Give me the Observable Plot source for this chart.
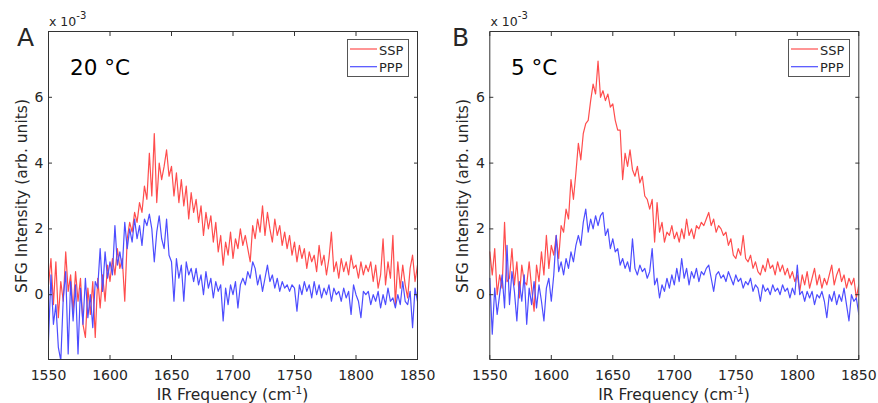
<!DOCTYPE html>
<html>
<head>
<meta charset="utf-8">
<script src="https://cdn.jsdelivr.net/npm/d3@7"></script>
<script src="https://cdn.jsdelivr.net/npm/@observablehq/plot@0.6"></script>
<style>
  html, body { margin: 0; padding: 0; background: #fff; }
  #wrap { position: relative; width: 878px; height: 403px; overflow: hidden; font-family: "DejaVu Sans", Verdana, sans-serif; color: #262626; }
  .panel { position: absolute; top: 0; }
  #overlay { position: absolute; left: 0; top: 0; pointer-events: none; }
</style>
</head>
<body>
<div id="wrap">
  <div class="panel" id="pA" style="left:0px"></div>
  <div class="panel" id="pB" style="left:439px"></div>
  <svg id="overlay" width="878" height="403" font-family="DejaVu Sans, Verdana, sans-serif" fill="#262626">
    <!-- panel A texts -->
    <text x="17" y="46" font-size="25">A</text>
    <text x="49" y="26" font-size="12.5">x 10<tspan dy="-7" font-size="10">-3</tspan></text>
    <text x="70" y="74.5" font-size="21.5" fill="#000">20 °C</text>
    <text transform="translate(26.5,196) rotate(-90)" text-anchor="middle" font-size="15.5">SFG Intensity (arb. units)</text>
    <text x="232.5" y="399.5" text-anchor="middle" font-size="15.5">IR Frequency (cm<tspan dy="-6" font-size="10.5">-1</tspan><tspan dy="6">)</tspan></text>
    <rect x="347.5" y="39.5" width="61" height="37" fill="#fff" stroke="#555" stroke-width="1"></rect>
    <line x1="350" x2="377" y1="49" y2="49" stroke="#ff4d4d" stroke-width="1.2"></line>
    <line x1="350" x2="377" y1="66.7" y2="66.7" stroke="#4d4dff" stroke-width="1.2"></line>
    <text x="379" y="54.5" font-size="13">SSP</text>
    <text x="379" y="72" font-size="13">PPP</text>
    <!-- panel B texts -->
    <text x="452" y="46" font-size="25">B</text>
    <text x="490.5" y="26" font-size="12.5">x 10<tspan dy="-7" font-size="10">-3</tspan></text>
    <text x="511" y="74.5" font-size="21.5" fill="#000">5 °C</text>
    <text transform="translate(467.5,196) rotate(-90)" text-anchor="middle" font-size="15.5">SFG Intensity (arb. units)</text>
    <text x="674" y="399.5" text-anchor="middle" font-size="15.5">IR Frequency (cm<tspan dy="-6" font-size="10.5">-1</tspan><tspan dy="6">)</tspan></text>
    <rect x="788.5" y="39.5" width="61" height="37" fill="#fff" stroke="#555" stroke-width="1"></rect>
    <line x1="791" x2="818" y1="49" y2="49" stroke="#ff4d4d" stroke-width="1.2"></line>
    <line x1="791" x2="818" y1="66.7" y2="66.7" stroke="#4d4dff" stroke-width="1.2"></line>
    <text x="820" y="54.5" font-size="13">SSP</text>
    <text x="820" y="72" font-size="13">PPP</text>
  </svg>
</div>
<script>
// IR frequency grid (cm^-1), 2 cm^-1 spacing from 1550 to 1850
const freq = d3.range(1550, 1851, 2);

// Values in units of 1e-3 (arb. units)
// Panel A, 20 °C
const ssp20 = [
  0.3, 1.1, -0.3, 1.0, -0.7, 0.4, -0.2, 1.3, 0.1, 0.6,
  -0.5, 0.7, -0.2, 0.5, -0.9, -1.3, 0.2, -0.6, 0.4, -1.3,
  0.5, -0.4, 0.6, -0.2, 0.9, 0.4, 1.1, 0.6, 1.4, 0.8,
  1.1, -0.2, 1.7, 2.2, 1.9, 2.5, 2.2, 2.8, 2.5, 3.3,
  2.9, 4.3, 3.0, 4.9, 2.8, 4.0, 3.5, 3.9, 4.4, 3.6,
  3.9, 3.0, 3.7, 2.8, 3.5, 2.7, 3.3, 2.3, 3.1, 2.5,
  2.9, 2.2, 2.7, 1.8, 2.5, 2.0, 2.4, 1.6, 2.2, 1.3,
  1.8, 0.9, 1.6, 1.2, 1.9, 1.1, 1.7, 1.4, 2.0, 1.5,
  1.8, 1.4, 1.0, 2.1, 1.7, 2.3, 1.9, 2.7, 1.8, 2.5,
  2.0, 1.6, 2.3, 1.8, 2.1, 1.5, 1.9, 1.4, 1.8, 1.2,
  1.6, 1.0, 1.5, 1.1, 1.4, 0.8, 1.3, 1.0, 1.2, 0.7,
  1.5, 0.9, 1.2, 0.6, 1.1, 1.9, 0.7, 1.0, 0.5, 1.1,
  0.7, 1.0, 0.6, 1.2, 0.8, 0.9, 0.5, 1.0, 0.6, 0.9,
  0.7, 1.0, 0.4, 0.9, 0.2, 0.6, 1.7, 0.3, 1.0, 0.5,
  1.8, -0.3, 1.0, 0.2, 0.9, 0.3, -0.1, 0.8, 1.2, 0.4,
  0.9
];
const ppp20 = [
  -1.4, 0.6, -0.9, -0.3, -1.6, -2.0, -0.1, 0.7, -1.8, 0.4,
  -0.8, 0.3, -1.8, 0.2, -0.9, 0.5, -0.7, 0.0, -1.0, 0.4,
  0.2, 1.4, 0.1, 1.3, 0.5, 1.0, 0.6, 2.1, 0.9, 1.3,
  0.8, 2.2, 1.4, 2.0, 1.6, 2.3, 1.7, 2.1, 1.5, 2.3,
  2.1, 2.45, 2.0, 1.0, 1.9, 2.4, 1.7, 1.4, 2.3, 1.2,
  1.0, -0.2, 1.1, 0.5, 0.9, -0.2, 1.0, 0.6, 0.8, 0.4,
  0.8, 0.3, 0.6, 0.0, 0.7, 0.2, 0.5, -0.1, 0.4, 0.1,
  0.3, -0.8, 0.2, -0.3, 0.3, 0.0, 0.4, -0.4, 0.3, 0.5,
  0.3, 0.7, 0.5, 1.0, 0.8, 0.3, 0.6, 0.1, 0.5, 0.9,
  0.4, 0.6, 0.2, 0.5, 0.1, 0.4, 0.2, 0.3, 0.1, 0.3,
  0.2, -0.5, 0.3, 0.0, 0.4, 0.1, 0.3, -0.1, 0.4, 0.0,
  0.3, -0.1, 0.2, 0.0, 0.3, -0.2, 0.2, 0.0, 0.1, -0.2,
  0.2, -0.1, 0.1, -0.6, 0.3, 0.0, -0.2, -0.7, 0.1, 0.0,
  0.1, -0.3, 0.0, -0.2, 0.1, -0.4, 0.0, -0.3, 0.2, -0.2,
  -0.1, -0.4, 0.0, -0.3, 0.4, -0.2, -0.3, 0.1, -1.0, 0.2,
  -0.2
];
// Panel B, 5 °C
const ssp5 = [
  1.3, 0.6, 1.4, 0.0, 0.6, 0.2, 2.2, 0.4, 0.5, 1.4,
  0.3, 1.0, -0.1, 0.9, 0.4, 0.3, 1.0, 0.2, -0.5, 0.9,
  0.4, 1.3, 0.6, 1.8, 0.8, 1.5, 1.2, 1.8, 1.1, 2.1,
  1.9, 2.6, 2.3, 3.5, 2.9, 3.7, 4.6, 4.1, 4.9, 5.2,
  5.3, 5.9, 6.4, 6.1, 7.1, 6.0, 6.2, 5.9, 6.1, 5.7,
  5.8, 5.3, 5.0, 5.0, 3.5, 4.3, 3.9, 4.4, 3.8, 3.6,
  3.9, 3.4, 3.6, 3.0, 2.9, 2.6, 2.9, 1.6, 2.8, 1.9,
  2.2, 1.6, 1.9, 1.8, 2.1, 1.7, 1.9, 1.6, 2.0, 1.7,
  2.3, 1.8, 2.0, 1.7, 2.1, 2.0, 2.2, 2.1, 2.3, 2.5,
  2.1, 2.3, 1.9, 2.1, 2.0, 1.8, 1.9, 1.5, 1.7, 1.2,
  1.1, 1.4, 1.2, 1.8, 1.1, 1.0, 1.2, 0.8, 1.0, 0.7,
  0.6, 0.9, 0.7, 1.1, 0.8, 0.9, 0.6, 1.0, 0.7, 0.9,
  0.6, 0.8, 0.5, 0.7, 0.4, 0.6, 0.1, 0.6, 0.3, 0.7,
  0.2, 0.5, 0.8, 0.3, 0.6, 0.2, 0.5, 0.3, 0.6, 0.9,
  0.3, 0.6, 0.8, 0.4, 0.6, 0.2, 0.5, 0.3, 0.5, -0.1,
  0.3
];
const ppp5 = [
  0.5, -1.2, 0.2, -0.6, 0.0, 0.6, -0.4, 1.5, -0.3, 0.7,
  0.1, -0.8, 0.4, -0.2, 0.6, -0.9, 0.2, -0.3, 0.4, -0.4,
  0.3, -0.2, -0.8, 0.2, 0.5, -0.2, 0.6, 1.8, 0.7, 1.0,
  0.6, 1.1, 0.8, 1.3, 1.0, 1.5, 1.8, 1.5, 2.2, 2.6,
  1.9, 2.3, 2.0, 2.4, 2.1, 2.4, 2.5, 1.8, 2.0, 1.4,
  1.7, 1.3, 1.4, 0.9, 1.1, 0.8, 1.0, 0.7, 1.7, 0.8,
  0.6, 0.9, 0.7, 0.8, 0.5, 0.7, 1.4, 0.3, 0.5, -0.1,
  0.3, 0.1, 0.5, 0.2, 0.6, 0.3, 0.8, 0.4, 1.1, 0.5,
  0.8, 0.3, 0.7, 0.5, 0.8, 0.4, 0.7, 0.6, 0.8, 0.9,
  0.5, 0.1, 0.6, 0.7, 0.5, 0.6, 0.4, 0.7, 0.5, 0.3,
  0.6, 0.4, 0.5, 0.2, 0.4, 0.3, 0.5, 0.1, 0.3, 0.2,
  -0.2, 0.3, 0.1, 0.2, 0.0, 0.3, 0.1, 0.2, 0.0, 0.3,
  0.1, 0.2, -0.1, 0.2, 0.0, 0.9, 0.0, 0.1, -0.2, 0.1,
  -0.1, 0.1, -0.3, 0.0, -0.1, 0.1, -0.2, -0.7, 0.0, -0.2,
  0.1, -0.3, 0.0, -0.2, 0.2, -0.3, -0.8, 0.0, -0.2, -0.1,
  -0.6
];

const xTicks = [1550, 1600, 1650, 1700, 1750, 1800, 1850];
const yTicks = [0, 2, 4, 6];
const RED = "#ff4d4d", BLUE = "#4d4dff", AX = "#333333";

function panel(ssp, ppp, mL, mR) {
  const rows = (arr) => freq.map((f, i) => ({f, v: arr[i]}));
  return Plot.plot({
    width: 439,
    height: 403,
    marginLeft: mL,
    marginRight: mR,
    marginTop: 31,
    marginBottom: 44,
    style: {fontFamily: "DejaVu Sans, Verdana, sans-serif", fontSize: "14px", color: "#262626", background: "transparent"},
    x: {domain: [1550, 1850]},
    y: {domain: [-1.97, 8]},
    marks: [
      Plot.line(rows(ssp), {x: "f", y: "v", stroke: RED, strokeWidth: 1.2, clip: true}),
      Plot.line(rows(ppp), {x: "f", y: "v", stroke: BLUE, strokeWidth: 1.2, clip: true}),
      Plot.frame({stroke: AX, strokeWidth: 1}),
      Plot.axisX({ticks: xTicks, tickSize: -4, tickPadding: 14.5, label: null, tickFormat: d => String(d), stroke: AX}),
      Plot.axisX({anchor: "top", ticks: xTicks, tickSize: -4, label: null, tickFormat: () => "", stroke: AX}),
      Plot.axisY({ticks: yTicks, tickSize: -4, tickPadding: 9, label: null, tickFormat: d => String(d), stroke: AX}),
      Plot.axisY({anchor: "right", ticks: yTicks, tickSize: -4, label: null, tickFormat: () => "", stroke: AX})
    ]
  });
}

document.getElementById("pA").appendChild(panel(ssp20, ppp20, 48, 22));
document.getElementById("pB").appendChild(panel(ssp5, ppp5, 50.3, 19.7));
</script>
</body>
</html>
